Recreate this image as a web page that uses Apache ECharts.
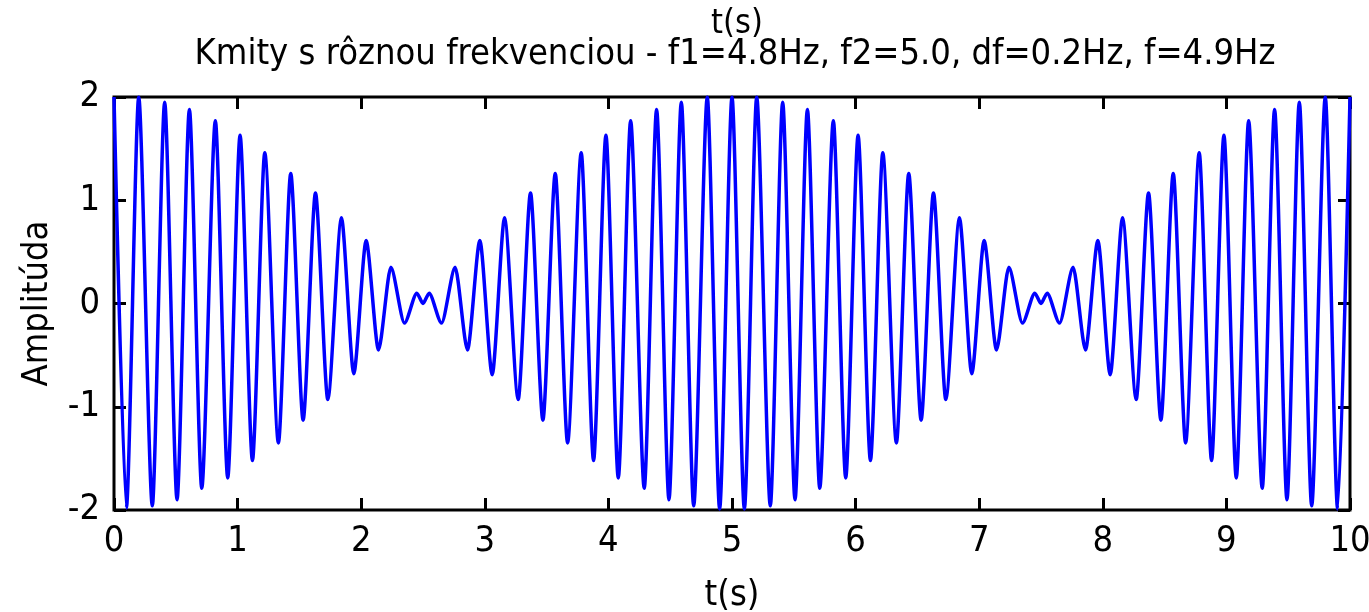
<!DOCTYPE html>
<html>
<head>
<meta charset="utf-8">
<title>Kmity s rôznou frekvenciou</title>
<script src="https://cdn.jsdelivr.net/npm/echarts@6/dist/echarts.min.js"></script>
<style>
  html, body { margin: 0; padding: 0; background: #fff; }
  #chart { width: 1369px; height: 612px; }
</style>
</head>
<body>
<div id="chart"></div>
<script>
// extremes of the beat signal (time in s)
const times = [
  0, 0.10, 0.20, 0.31, 0.41, 0.51, 0.61, 0.71, 0.82, 0.92,
  1.02, 1.12, 1.22, 1.33, 1.43, 1.53, 1.63, 1.73, 1.84, 1.94,
  2.04, 2.14, 2.24, 2.35, 2.45, 2.50, 2.55, 2.65, 2.76, 2.86,
  2.96, 3.06, 3.16, 3.27, 3.37, 3.47, 3.57, 3.67, 3.78, 3.88,
  3.98, 4.08, 4.18, 4.29, 4.39, 4.49, 4.59, 4.69, 4.80, 4.90,
  5.00, 5.10, 5.20, 5.31, 5.41, 5.51, 5.61, 5.71, 5.82, 5.92,
  6.02, 6.12, 6.22, 6.33, 6.43, 6.53, 6.63, 6.73, 6.84, 6.94,
  7.04, 7.14, 7.24, 7.35, 7.45, 7.50, 7.55, 7.65, 7.76, 7.86,
  7.96, 8.06, 8.16, 8.27, 8.37, 8.47, 8.57, 8.67, 8.78, 8.88,
  8.98, 9.08, 9.18, 9.29, 9.39, 9.49, 9.59, 9.69, 9.80, 9.90,
  10.00
];

const amplitudes = [
  2.0, -1.98, 2.0, -1.96, 1.95, -1.90, 1.88, -1.79, 1.77, -1.69,
  1.63, -1.52, 1.46, -1.35, 1.26, -1.13, 1.07, -0.93, 0.83, -0.68,
  0.61, -0.45, 0.35, -0.19, 0.10, 0.0, 0.10, -0.19, 0.35, -0.45,
  0.61, -0.69, 0.83, -0.93, 1.07, -1.13, 1.26, -1.35, 1.46, -1.52,
  1.63, -1.69, 1.77, -1.79, 1.88, -1.90, 1.95, -1.96, 2.0, -1.99,
  2.0, -1.99, 2.0, -1.96, 1.95, -1.90, 1.88, -1.79, 1.77, -1.69,
  1.63, -1.52, 1.46, -1.35, 1.26, -1.13, 1.07, -0.93, 0.83, -0.68,
  0.61, -0.45, 0.35, -0.19, 0.10, 0.0, 0.10, -0.19, 0.35, -0.45,
  0.61, -0.69, 0.83, -0.93, 1.07, -1.13, 1.26, -1.35, 1.46, -1.52,
  1.63, -1.69, 1.77, -1.79, 1.88, -1.90, 1.95, -1.96, 2.0, -1.99,
  2.0
];

const titleText = "Kmity s rôznou frekvenciou - f1=4.8Hz, f2=5.0, df=0.2Hz, f=4.9Hz";
const xName = "t(s)";
const yName = "Amplitúda";

const font = "'DejaVu Sans Condensed', 'Liberation Sans', sans-serif";

const chart = echarts.init(document.getElementById("chart"), null, { renderer: "canvas" });

const tick = { show: true, inside: true, length: 12, lineStyle: { color: "#000", width: 3 } };
const label = { color: "#000", fontFamily: font, fontSize: 36 };
const noLine = { show: false, onZero: false };

const option = {
  animation: false,
  backgroundColor: "#fff",
  title: [
    {
      text: xName,
      left: 732,
      textAlign: "center",
      top: 2,
      textStyle: { color: "#000", fontFamily: font, fontSize: 34, fontWeight: "normal" },
    },
    {
      text: titleText,
      left: 730,
      textAlign: "center",
      top: 32,
      textStyle: { color: "#000", fontFamily: font, fontSize: 36, fontWeight: "normal" },
    },
  ],
  grid: {
    left: 114,
    right: 19,
    top: 97,
    bottom: 102,
    outerBoundsMode: "none",
    show: true,
    borderColor: "#000",
    borderWidth: 3,
  },
  xAxis: [
    {
      type: "value",
      min: 0,
      max: 10,
      interval: 1,
      position: "bottom",
      name: xName,
      nameLocation: "middle",
      nameGap: 68,
      nameTextStyle: label,
      axisLine: noLine,
      axisTick: tick,
      splitLine: { show: false },
      axisLabel: { ...label, margin: 14 },
    },
    {
      type: "value",
      min: 0,
      max: 10,
      interval: 1,
      position: "top",
      axisLine: noLine,
      axisTick: tick,
      splitLine: { show: false },
      axisLabel: { show: false },
    },
  ],
  yAxis: [
    {
      type: "value",
      min: -2,
      max: 2,
      interval: 1,
      position: "left",
      name: yName,
      nameLocation: "middle",
      nameGap: 58,
      nameTextStyle: label,
      axisLine: noLine,
      axisTick: tick,
      splitLine: { show: false },
      axisLabel: { ...label, margin: 14 },
    },
    {
      type: "value",
      min: -2,
      max: 2,
      interval: 1,
      position: "right",
      axisLine: noLine,
      axisTick: tick,
      splitLine: { show: false },
      axisLabel: { show: false },
    },
  ],
  series: [
    {
      type: "line",
      data: times.map((t, i) => [t, amplitudes[i]]),
      showSymbol: false,
      smooth: 0.25,
      smoothMonotone: "x",
      lineStyle: { color: "#0000ff", width: 3.5 },
      clip: true,
    },
  ],
};

chart.setOption(option);
</script>
</body>
</html>
